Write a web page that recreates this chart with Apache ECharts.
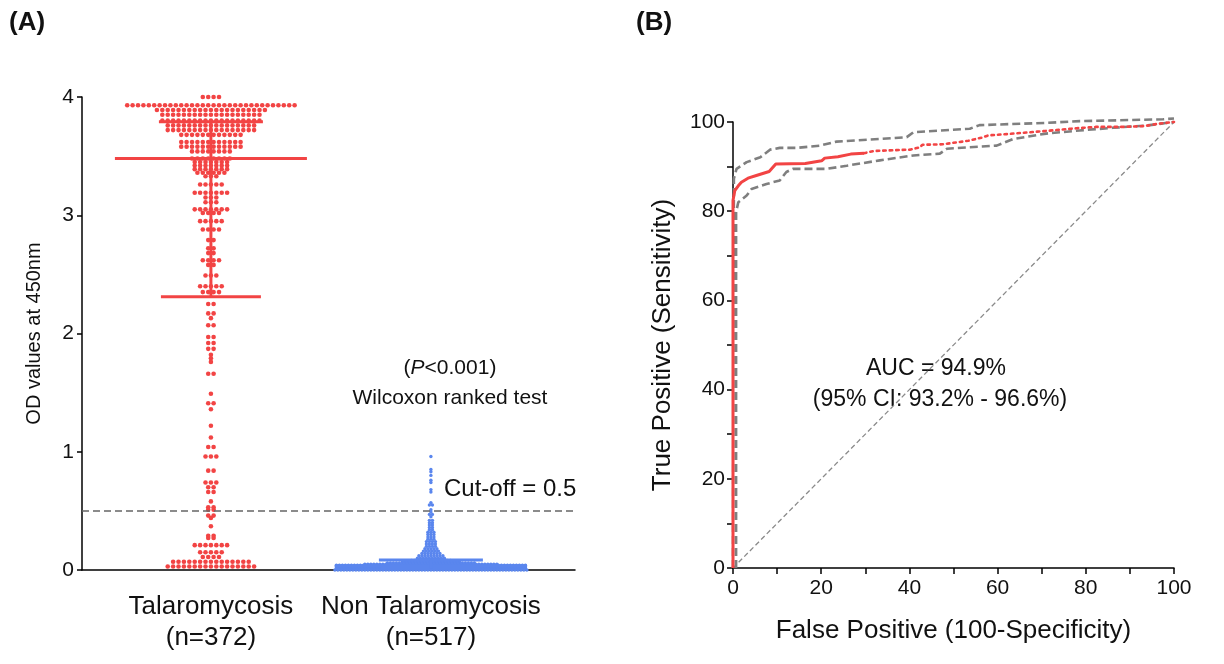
<!DOCTYPE html>
<html>
<head>
<meta charset="utf-8">
<script src="https://cdn.jsdelivr.net/npm/echarts@6/dist/echarts.min.js"></script>
<style>
  html, body { margin: 0; padding: 0; background: #fff; }
  #chart { width: 1224px; height: 664px; }
</style>
</head>
<body>
<div id="chart"></div>
<script>
// panel A: dot plot, values binned into rows
var groupNames = ['Talaromycosis\n(n=372)', 'Non Talaromycosis\n(n=517)'];

var redLevels = [4.00, 3.93, 3.89, 3.85, 3.80, 3.76, 3.72, 3.68, 3.62, 3.58, 3.54, 3.48,
  3.45, 3.42, 3.39, 3.36, 3.33, 3.26, 3.19, 3.15, 3.11, 3.05, 3.02, 2.95, 2.88, 2.79, 2.72,
  2.68, 2.62, 2.58, 2.49, 2.40, 2.35,
  2.25, 2.17, 2.13, 2.07, 1.97, 1.92, 1.87, 1.82, 1.79, 1.76, 1.66, 1.49, 1.41, 1.36, 1.22,
  1.12, 1.04, 0.96, 0.84, 0.74, 0.70, 0.66, 0.58, 0.53, 0.51, 0.46, 0.44, 0.37, 0.29, 0.27,
  0.21, 0.15, 0.11, 0.07, 0.03];
var redCounts = [4, 32, 21, 19, 19, 17, 17, 12, 12, 12, 8, 8,
  7, 7, 7, 6, 3, 5, 7, 3, 3, 7, 4, 5, 4, 2, 2,
  2, 4, 2, 3, 5, 4,
  2, 2, 1, 2, 2, 2, 2, 1, 1, 1, 2, 1, 2, 1, 1,
  1, 2, 3, 2, 3, 2, 2, 1, 2, 2, 2, 1, 1, 2, 2,
  7, 5, 4, 15, 17];

var blueLevels = [0.96, 0.85, 0.83, 0.80, 0.76, 0.74, 0.68, 0.66, 0.57, 0.55, 0.51, 0.49,
  0.47, 0.45, 0.42, 0.40, 0.38, 0.36, 0.34, 0.32, 0.30, 0.28, 0.26, 0.24, 0.22, 0.20, 0.18,
  0.16, 0.14, 0.12, 0.10, 0.08, 0.07, 0.06, 0.05, 0.04, 0.03, 0.02, 0.01, 0.00];
var blueCounts = [1, 1, 1, 1, 1, 1, 1, 1, 1, 2, 1, 1,
  2, 1, 2, 2, 2, 2, 2, 3, 3, 3, 3, 4, 4, 4, 5,
  6, 7, 9, 10, 14, 20, 30, 45, 64, 64, 64, 64, 65];

var groupMedian = [3.48, 0.035];
var groupQ1 = [2.31, 0.012];
var groupQ3 = [3.79, 0.085];
var cutOff = 0.5;

// panel B: ROC curve and 95% CI bands
var rocFpr = [0, 0, 0.4, 1.2, 1.9, 3.4, 5.3, 8.2, 9.7, 16.4, 16.7, 20.1, 20.8, 23.8, 26.7,
  29.7, 31.9, 40.1, 42.3, 43, 47.5, 53.4, 56.4, 57.9, 62.3, 66, 69.7, 73.4, 77.9, 82.3, 88.2,
  93.4, 96.4, 100];
var rocTpr = [0, 82.4, 84.6, 85.7, 86.5, 87.4, 88, 88.9, 90.6, 90.7, 91.1, 91.3, 91.9, 92.2, 92.8,
  93, 93.5, 93.8, 94.3, 94.9, 95, 95.8, 96.5, 97, 97.3, 97.6, 97.9, 98.2, 98.6, 98.9, 98.9,
  99.1, 99.6, 100];
var ciUpFpr = [0, 0.2, 0.8, 3.1, 6.2, 8.4, 10.6, 14.4, 19.7, 23.5, 33.3, 39.4, 40.9, 53.7, 55.9,
  71, 78.6, 97.5, 100];
var ciUpTpr = [0, 87.3, 89.5, 91, 92.1, 93.8, 94.2, 94.2, 94.7, 95.6, 96.2, 96.6, 97.7, 98.5, 99.3,
  99.8, 100.2, 100.6, 100.8];
var ciLoFpr = [0.7, 0.7, 1.2, 3.1, 4.2, 7.6, 10.6, 12.1, 13.6, 21.3, 25.8, 33.3, 40.9, 46.9, 48.5,
  59.8, 63.6, 71, 78.6, 86.1, 93.7, 100];
var ciLoTpr = [0, 79.8, 82, 83.5, 85, 86.1, 86.9, 88.8, 89.5, 89.5, 90.2, 91.4, 92.5, 92.9, 94,
  94.7, 96.2, 97.4, 98.1, 98.7, 99.2, 100];

var FONT = "'Liberation Sans', Arial, sans-serif";
var RED = '#f24444';
var BLUE = '#5a86ee';
var GRAY = '#7f7f7f';

// rows of dots, spread sideways around the group's position
function swarm(group, levels, counts, gap) {
  var out = [];
  for (var i = 0; i < levels.length; i++) {
    var n = counts[i];
    for (var k = 0; k < n; k++) {
      out.push({ value: [group, levels[i]], symbolOffset: [(k - (n - 1) / 2) * gap, 0] });
    }
  }
  return out;
}

function zip(xs, ys) {
  var out = [];
  for (var i = 0; i < xs.length; i++) out.push([xs[i], ys[i]]);
  return out;
}

var roc = zip(rocFpr, rocTpr);
var solidEnd = 16;

var chart = echarts.init(document.getElementById('chart'));

chart.setOption({
  animation: false,
  textStyle: { fontFamily: FONT, color: '#000' },
  grid: [
    { left: 82, top: 97, right: 649, bottom: 94 },
    { left: 733, top: 122, right: 50, bottom: 96 }
  ],
  xAxis: [{
    gridIndex: 0,
    type: 'value',
    min: -0.586,
    max: 1.655,
    splitLine: { show: false },
    axisLine: { lineStyle: { color: '#000', width: 1.5 } },
    axisTick: { show: false },
    axisLabel: {
      customValues: [0, 1],
      formatter: function (v) { return groupNames[Math.round(v)]; },
      fontSize: 26, lineHeight: 31, color: '#111', margin: 21
    }
  }, {
    gridIndex: 1,
    type: 'value',
    min: 0, max: 100, interval: 20,
    splitLine: { show: false },
    axisLine: { lineStyle: { color: '#000', width: 1.5 } },
    axisTick: { length: 6, lineStyle: { color: '#000', width: 1.5 } },
    minorTick: { show: true, splitNumber: 2, length: 6, lineStyle: { color: '#000', width: 1.5 } },
    axisLabel: { fontSize: 21, color: '#111', margin: 10 },
    name: 'False Positive (100-Specificity)',
    nameLocation: 'middle', nameGap: 50,
    nameTextStyle: { fontSize: 26, color: '#111' }
  }],
  yAxis: [{
    gridIndex: 0,
    type: 'value',
    min: 0, max: 4, interval: 1,
    splitLine: { show: false },
    axisLine: { show: true, onZero: false, lineStyle: { color: '#000', width: 1.5 } },
    axisTick: { show: true, length: 5, lineStyle: { color: '#000', width: 1.5 } },
    axisLabel: { fontSize: 21, color: '#111', margin: 8 },
    name: 'OD values at 450nm',
    nameLocation: 'middle', nameGap: 38,
    nameTextStyle: { fontSize: 20, color: '#111' }
  }, {
    gridIndex: 1,
    type: 'value',
    min: 0, max: 100, interval: 20,
    splitLine: { show: false },
    axisLine: { show: true, onZero: false, lineStyle: { color: '#000', width: 1.5 } },
    axisTick: { show: true, length: 6, lineStyle: { color: '#000', width: 1.5 } },
    minorTick: { show: true, splitNumber: 2, length: 6, lineStyle: { color: '#000', width: 1.5 } },
    axisLabel: { fontSize: 21, color: '#111', margin: 8 },
    name: 'True Positive (Sensitivity)',
    nameLocation: 'middle', nameGap: 57,
    nameTextStyle: { fontSize: 26, color: '#111' }
  }],
  series: [{
    type: 'scatter',
    xAxisIndex: 0, yAxisIndex: 0,
    clip: false,
    symbolSize: 4.6,
    itemStyle: { color: RED, opacity: 1 },
    data: swarm(0, redLevels, redCounts, 5.4),
    markLine: {
      silent: true,
      symbol: 'none',
      label: { show: false },
      lineStyle: { color: '#666', width: 1.6, type: [7, 4] },
      data: [{ yAxis: cutOff }]
    },
    z: 2
  }, {
    type: 'scatter',
    xAxisIndex: 0, yAxisIndex: 0,
    clip: false,
    symbolSize: 3.4,
    itemStyle: { color: BLUE, opacity: 1 },
    data: swarm(1, blueLevels, blueCounts, 3.0),
    z: 2
  }, {
    // median (long) and interquartile (short) bars
    type: 'custom',
    xAxisIndex: 0, yAxisIndex: 0,
    clip: false,
    data: [0, 1].map(function (g) { return [g, groupMedian[g], groupQ1[g], groupQ3[g]]; }),
    renderItem: function (params, api) {
      var g = api.value(0);
      var m = api.coord([g, api.value(1)]);
      var a = api.coord([g, api.value(2)]);
      var b = api.coord([g, api.value(3)]);
      var st = { stroke: g === 0 ? RED : BLUE, lineWidth: 3 };
      return {
        type: 'group',
        children: [
          { type: 'line', shape: { x1: m[0] - 96, y1: m[1], x2: m[0] + 96, y2: m[1] }, style: st },
          { type: 'line', shape: { x1: a[0] - 50, y1: a[1], x2: a[0] + 50, y2: a[1] }, style: st },
          { type: 'line', shape: { x1: b[0] - 52, y1: b[1], x2: b[0] + 52, y2: b[1] }, style: st },
          { type: 'line', shape: { x1: a[0], y1: a[1], x2: b[0], y2: b[1] }, style: st }
        ]
      };
    },
    z: 3
  }, {
    type: 'line',
    xAxisIndex: 1, yAxisIndex: 1,
    clip: false,
    symbol: 'none',
    lineStyle: { color: '#8a8a8a', width: 1.3, type: [5, 3] },
    data: [[0, 0], [100, 100]],
    z: 1
  }, {
    type: 'line',
    xAxisIndex: 1, yAxisIndex: 1,
    clip: false,
    symbol: 'none',
    lineStyle: { color: GRAY, width: 2.6, type: [8, 4] },
    data: zip(ciUpFpr, ciUpTpr),
    z: 2
  }, {
    type: 'line',
    xAxisIndex: 1, yAxisIndex: 1,
    clip: false,
    symbol: 'none',
    lineStyle: { color: GRAY, width: 2.6, type: [8, 4] },
    data: zip(ciLoFpr, ciLoTpr),
    z: 2
  }, {
    type: 'line',
    xAxisIndex: 1, yAxisIndex: 1,
    clip: false,
    symbol: 'none',
    lineStyle: { color: RED, width: 3 },
    data: roc.slice(0, solidEnd),
    z: 3
  }, {
    type: 'line',
    xAxisIndex: 1, yAxisIndex: 1,
    clip: false,
    symbol: 'none',
    lineStyle: { color: RED, width: 2.6, type: [2.5, 4], cap: 'round' },
    data: roc.slice(solidEnd - 1),
    z: 3
  }],
  graphic: [
    { type: 'text', left: 9, top: 10, style: { text: '(A)', font: 'bold 26px ' + FONT, fill: '#111' } },
    { type: 'text', left: 636, top: 10, style: { text: '(B)', font: 'bold 26px ' + FONT, fill: '#111' } },
    {
      type: 'text', x: 450, y: 368,
      style: {
        text: '({i|P}<0.001)', font: '21px ' + FONT, fill: '#111',
        align: 'center', verticalAlign: 'middle',
        rich: { i: { fontStyle: 'italic', fontSize: 21, fontFamily: FONT } }
      }
    },
    { type: 'text', x: 450, y: 398, style: { text: 'Wilcoxon ranked test', font: '21px ' + FONT, fill: '#111', align: 'center', verticalAlign: 'middle' } },
    { type: 'text', x: 444, y: 489, style: { text: 'Cut-off = 0.5', font: '24px ' + FONT, fill: '#111', align: 'left', verticalAlign: 'middle' } },
    { type: 'text', x: 936, y: 369, style: { text: 'AUC = 94.9%', font: '23px ' + FONT, fill: '#111', align: 'center', verticalAlign: 'middle' } },
    { type: 'text', x: 940, y: 400, style: { text: '(95% CI: 93.2% - 96.6%)', font: '23px ' + FONT, fill: '#111', align: 'center', verticalAlign: 'middle' } }
  ]
});
</script>
</body>
</html>
